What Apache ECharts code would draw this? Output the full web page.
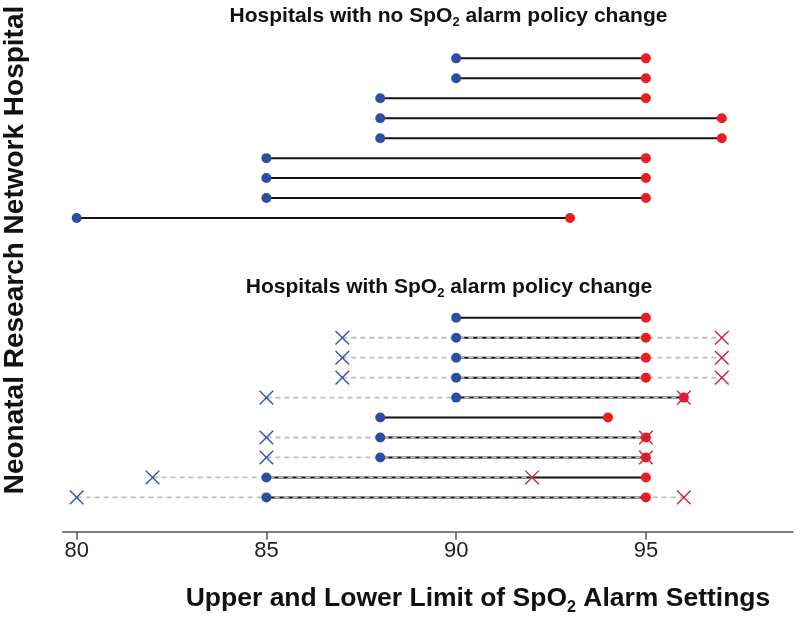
<!DOCTYPE html>
<html><head><meta charset="utf-8">
<script src="https://cdn.jsdelivr.net/npm/echarts@6/dist/echarts.min.js"></script>
<style>html,body{margin:0;padding:0;background:#fff}#c{width:800px;height:628px}</style>
</head><body><div id="c"></div>
<script>
// ---- data ----
const xTicks = [80, 85, 90, 95];
// Hospitals with no SpO2 alarm policy change
const topLower = [90, 90, 88, 88, 88, 85, 85, 85, 80];
const topUpper = [95, 95, 95, 97, 97, 95, 95, 95, 93];
// Hospitals with SpO2 alarm policy change (current limits)
const botLower = [90, 90, 90, 90, 90, 88, 88, 88, 85, 85];
const botUpper = [95, 95, 95, 95, 96, 94, 95, 95, 95, 95];
// previous limits (before policy change)
const botPrevLower = [null, 87, 87, 87, 85, null, 85, 85, 82, 80];
const botPrevUpper = [null, 97, 97, 97, 96, null, 95, 95, 92, 96];

// ---- layout (row positions) ----
const BLANK_ROWS = 4;
const topRows = topLower.map((_, i) => i);
const botStart = topLower.length + BLANK_ROWS;
const botRows = botLower.map((_, i) => botStart + i);

const BLUE = '#2c4e9e', RED = '#ea1c24', XBLUE = '#3352a8', XRED = '#d21f3c';
const FONT = '"Liberation Sans", Arial, Helvetica, sans-serif';

const segData = [];
topRows.forEach((r, i) => segData.push([topLower[i], topUpper[i], r]));
botRows.forEach((r, i) => segData.push([botLower[i], botUpper[i], r]));
const prevData = [];
botRows.forEach((r, i) => { if (botPrevLower[i] != null) prevData.push([botPrevLower[i], botPrevUpper[i], r]); });
const lowDots = [], upDots = [];
topRows.forEach((r, i) => { lowDots.push([topLower[i], r]); upDots.push([topUpper[i], r]); });
botRows.forEach((r, i) => { lowDots.push([botLower[i], r]); upDots.push([botUpper[i], r]); });
const xLow = [], xUp = [];
botRows.forEach((r, i) => { if (botPrevLower[i] != null) { xLow.push([botPrevLower[i], r]); xUp.push([botPrevUpper[i], r]); } });

function segSeries(data, style, z) {
  return {
    type: 'custom', z: z, silent: true, data: data, encode: { x: [0, 1], y: 2 },
    renderItem: function (params, api) {
      const a = api.coord([api.value(0), api.value(2)]);
      const b = api.coord([api.value(1), api.value(2)]);
      return { type: 'line', shape: { x1: a[0], y1: a[1], x2: b[0], y2: b[1] }, style: Object.assign({ fill: null }, style) };
    }
  };
}
function crossSeries(data, color, z) {
  return {
    type: 'custom', z: z, silent: true, data: data, encode: { x: 0, y: 1 },
    renderItem: function (params, api) {
      const p = api.coord([api.value(0), api.value(1)]);
      const h = 6.8;
      const st = { stroke: color, lineWidth: 1.4, fill: null };
      return { type: 'group', children: [
        { type: 'line', shape: { x1: p[0] - h, y1: p[1] - h, x2: p[0] + h, y2: p[1] + h }, style: st },
        { type: 'line', shape: { x1: p[0] - h, y1: p[1] + h, x2: p[0] + h, y2: p[1] - h }, style: st }
      ] };
    }
  };
}
function richTitle(F, f, offset) {
  const L = F;
  const p = L / 2 + offset - f / 2;
  return {
    b: { fontSize: F, lineHeight: L, fontWeight: 'bold', fontFamily: FONT, fill: '#111', color: '#111', verticalAlign: 'top' },
    s: { fontSize: f, lineHeight: f, fontWeight: 'bold', fontFamily: FONT, fill: '#111', color: '#111', verticalAlign: 'top', padding: [p, 0, 0, 0] }
  };
}
function textEl(x, y, text, rich, rot) {
  return {
    type: 'text', x: x, y: y, rotation: rot || 0, silent: true,
    style: { text: text, rich: rich, x: 0, y: 0, align: 'center', verticalAlign: 'middle', textAlign: 'center', textVerticalAlign: 'middle',
      font: 'bold 28px ' + FONT, fill: '#111' }
  };
}

const chart = echarts.init(document.getElementById('c'), null, { renderer: 'canvas' });
chart.setOption({
  animation: false,
  backgroundColor: '#fff',
  grid: { left: 62.7, right: 7, top: 38.4, bottom: 96.3, containLabel: false, outerBoundsMode: 'none' },
  xAxis: {
    type: 'value', min: 79.632, max: 98.876, position: 'bottom',
    splitLine: { show: false },
    axisLine: { show: true, onZero: false, lineStyle: { color: '#555', width: 1.5 } },
    axisTick: { show: true, length: 8, lineStyle: { color: '#555', width: 1.5 }, customValues: xTicks },
    axisLabel: { show: true, customValues: xTicks, margin: 8, fontSize: 22, color: '#222', fontFamily: FONT }
  },
  yAxis: { type: 'value', inverse: true, min: -1, max: 23.72, show: false, splitLine: { show: false } },
  series: [
    segSeries(segData, { stroke: '#111', lineWidth: 2 }, 2),
    segSeries(prevData, { stroke: '#bdbdbd', lineWidth: 1.8, lineDash: [5, 4] }, 3),
    { type: 'scatter', z: 4, silent: true, symbol: 'circle', symbolSize: 10, data: lowDots, itemStyle: { color: BLUE, opacity: 1 } },
    { type: 'scatter', z: 4, silent: true, symbol: 'circle', symbolSize: 10, data: upDots, itemStyle: { color: RED, opacity: 1 } },
    crossSeries(xLow, XBLUE, 5),
    crossSeries(xUp, XRED, 5)
  ],
  graphic: [
    textEl(448.5, 16.1, '{b|Hospitals with no SpO}{s|2}{b| alarm policy change}', richTitle(21, 13, 6.7)),
    textEl(449, 287.2, '{b|Hospitals with SpO}{s|2}{b| alarm policy change}', richTitle(21, 13, 6.7)),
    textEl(478, 598.6, '{b|Upper and Lower Limit of SpO}{s|2}{b| Alarm Settings}', richTitle(26.5, 16, 9)),
    textEl(15, 250, '{b|Neonatal Research Network Hospital}', { b: { fontSize: 28, lineHeight: 28, fontWeight: 'bold', fontFamily: FONT, fill: '#111', color: '#111' } }, Math.PI / 2)
  ]
});
</script>
</body></html>
